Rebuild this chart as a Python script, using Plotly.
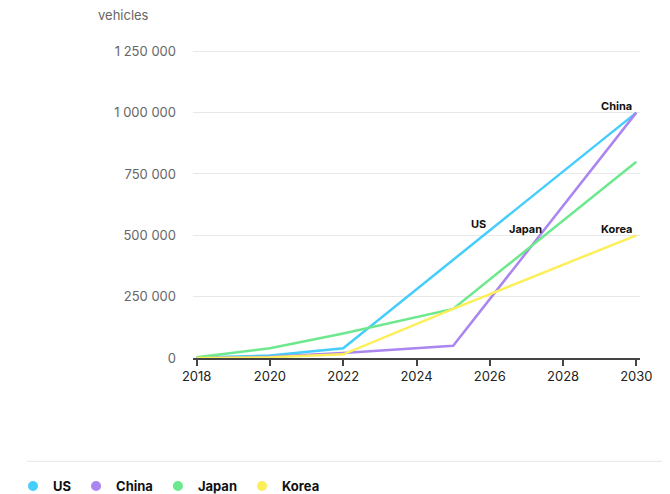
import plotly.graph_objects as go

years = [2018, 2020, 2022, 2025, 2030]
us = [2000, 10000, 40000, 400000, 1000000]
china = [0, 5000, 20000, 50000, 1000000]
japan = [3000, 40000, 100000, 200000, 800000]
korea = [0, 3000, 15000, 200000, 500000]

series = [("US", us, "#45cdfb"), ("China", china, "#ab85f0"),
          ("Japan", japan, "#6de88e"), ("Korea", korea, "#fcef5a")]

y_ticks = [0, 250000, 500000, 750000, 1000000, 1250000]
x_ticks = [2018, 2020, 2022, 2024, 2026, 2028, 2030]

FONT = "Inter, Roboto, sans-serif"

# window-pixel geometry of the plot area (page body has an 8px offset)
OFF = 8
W, H = 670, 494
PL, PR, PT, PB = 193, 640, 39, 358.5
PW, PH = PR - PL, PB - PT


def px(xw):
    return (xw - PL) / PW


def py(yw):
    return (PB - yw) / PH


fig = go.Figure()
for name, vals, col in series:
    fig.add_trace(go.Scatter(x=years, y=vals, mode="lines", name=name,
                             line=dict(color=col, width=2.5), showlegend=False,
                             hoverinfo="skip"))
for name, vals, col in series:
    fig.add_trace(go.Scatter(x=[None], y=[None], mode="markers", name=name,
                             marker=dict(color=col, size=10, symbol="circle")))

labels = [("China", 616, 106), ("US", 478, 224),
          ("Japan", 525, 229), ("Korea", 616, 229)]
for txt, xw, yw in labels:
    fig.add_annotation(xref="paper", yref="paper", x=px(xw), y=py(yw),
                       text="<b>" + txt + "</b>", showarrow=False,
                       xanchor="center", yanchor="middle",
                       font=dict(family=FONT, size=11, color="#111111"))

fig.add_annotation(xref="paper", yref="paper", x=px(96), y=py(15),
                   text="vehicles", showarrow=False, xanchor="left", yanchor="middle",
                   font=dict(family=FONT, size=13, color="#666666"))

fig.add_shape(type="line", xref="paper", yref="paper",
              x0=px(27), x1=px(672), y0=py(462), y1=py(462),
              line=dict(color="#e6e6e6", width=1))

fig.update_layout(
    width=W, height=H,
    margin=dict(l=PL - OFF, r=W + OFF - PR, t=PT - OFF, b=H + OFF - PB,
                autoexpand=False),
    paper_bgcolor="white", plot_bgcolor="white",
    separators=". ",
    font=dict(family=FONT, size=13, color="#666666"),
    legend=dict(orientation="h", xref="container", yref="container",
                x=(13 - OFF) / W, y=1 - (486 - OFF) / H,
                xanchor="left", yanchor="middle",
                font=dict(family=FONT, size=13, color="#111111", weight=700),
                itemwidth=30, tracegroupgap=0),
    xaxis=dict(range=[2017.9, 2030.1], tickvals=x_ticks, showgrid=False,
               showline=True, linecolor="#444444", linewidth=1.5,
               ticks="outside", ticklen=6, tickcolor="#444444", tickwidth=1.5,
               tickfont=dict(family=FONT, size=13, color="#222222"), zeroline=False),
    yaxis=dict(range=[0, 1300000], tickvals=y_ticks, tickformat=",d",
               showgrid=True, gridcolor="#e8e8e8", gridwidth=1,
               showline=False, zeroline=False, ticks="",
               ticklabelstandoff=16,
               tickfont=dict(family=FONT, size=13, color="#666666")),
)

fig.write_html("out.html")
